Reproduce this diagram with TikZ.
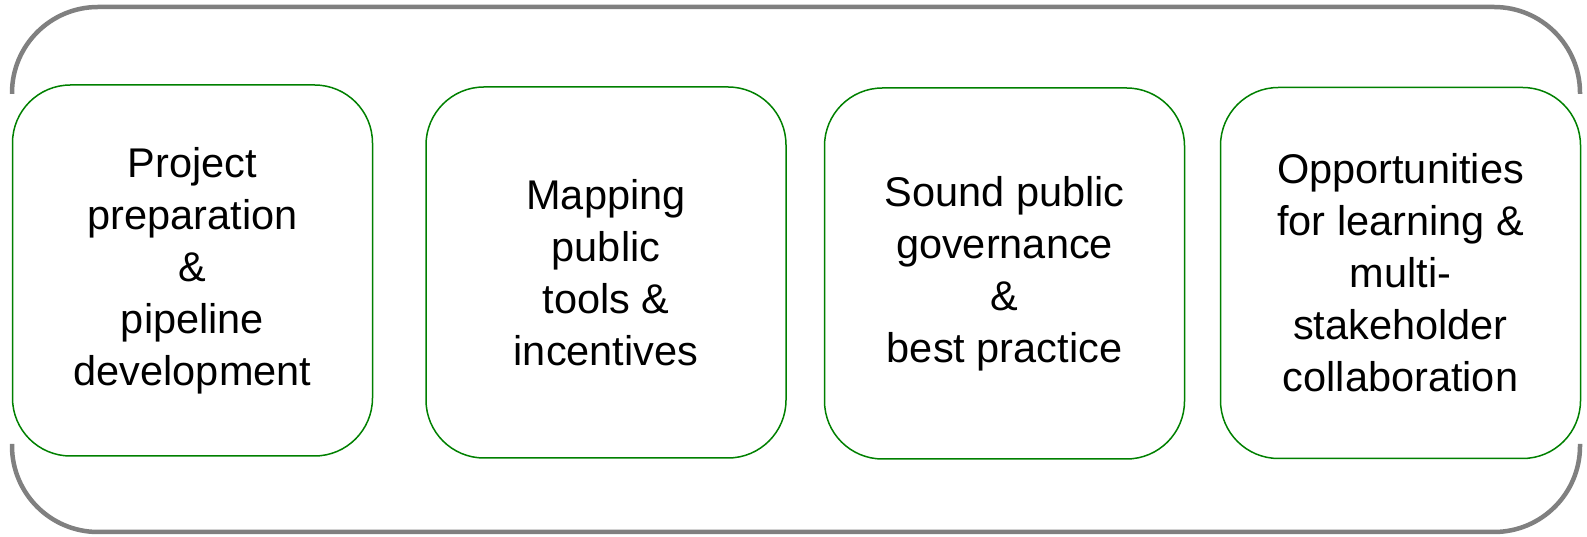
\documentclass[tikz,border=0pt]{standalone}
\usepackage{fontspec}
\setmainfont{Liberation Sans}
\usetikzlibrary{calc}

\definecolor{framegray}{RGB}{128,128,128}
\definecolor{boxgreen}{RGB}{0,128,0}

\tikzset{
  stagebox/.style={draw=boxgreen, line width=1.5pt, rounded corners=58pt,
    minimum width=360pt, minimum height=371pt, inner sep=0pt, align=center,
    font=\fontsize{41.5}{52}\selectfont},
  frameline/.style={draw=framegray, line width=4.5pt, rounded corners=86pt}
}

\begin{document}
\begin{tikzpicture}[x=1pt, y=1pt]
          \useasboundingbox (0,0) rectangle (1587,537);

          % outer frame, top and bottom halves
          \coordinate (topL) at (12,443);
          \coordinate (topR) at (1580,443);
          \coordinate (botL) at (12,93);
          \coordinate (botR) at (1580,93);
          \draw [frameline] (topL) |- (1580,530) -- (topR);
          \draw [frameline] (botL) |- (1580,5) -- (botR);

          % the four boxes
          \node [stagebox] (prep) at (192.5,266.5) {Project\\preparation\\\&\\pipeline\\development};
          \node [stagebox] (tools) at (606,264.5) {Mapping\\public\\tools \&\\incentives};
          \node [stagebox] (gov) at (1004.5,263.5) {Sound public\\governance\\\&\\best practice};
          \node [stagebox] (learn) at (1400.5,264) {Opportunities\\for learning \&\\multi-\\stakeholder\\collaboration};
        \end{tikzpicture}
\end{document}
